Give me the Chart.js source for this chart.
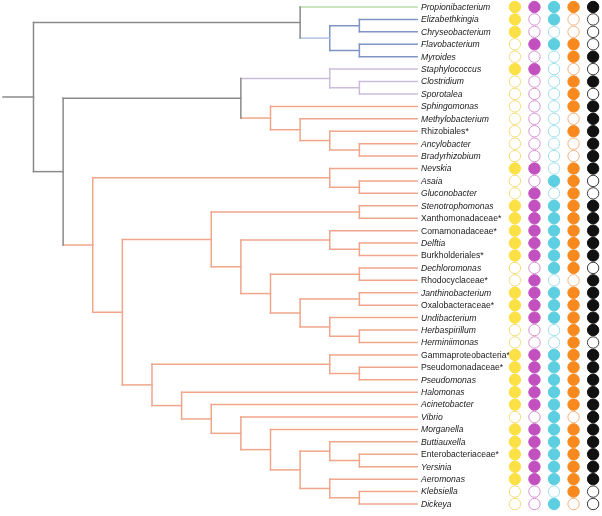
<!DOCTYPE html>
<html>
<head>
<meta charset="utf-8">
<script src="https://cdn.jsdelivr.net/npm/chart.js@4.4.0/dist/chart.umd.min.js"></script>
<style>
  html, body { margin: 0; padding: 0; background: #ffffff; }
  #wrap { width: 602px; height: 516px; }
</style>
</head>
<body>
<div id="wrap"><canvas id="c" width="602" height="516"></canvas></div>
<script>
// ---------------- DATA ----------------
const taxa = [
  "Propionibacterium", "Elizabethkingia", "Chryseobacterium", "Flavobacterium", "Myroides",
  "Staphylococcus", "Clostridium", "Sporotalea", "Sphingomonas", "Methylobacterium",
  "Rhizobiales*", "Ancylobacter", "Bradyrhizobium", "Nevskia", "Asaia",
  "Gluconobacter", "Stenotrophomonas", "Xanthomonadaceae*", "Comamonadaceae*", "Delftia",
  "Burkholderiales*", "Dechloromonas", "Rhodocyclaceae*", "Janthinobacterium", "Oxalobacteraceae*",
  "Undibacterium", "Herbaspirillum", "Herminiimonas", "Gammaproteobacteria*", "Pseudomonadaceae*",
  "Pseudomonas", "Halomonas", "Acinetobacter", "Vibrio", "Morganella",
  "Buttiauxella", "Enterobacteriaceae*", "Yersinia", "Aeromonas", "Klebsiella",
  "Dickeya"
];

// tree topology (numbers are indices into taxa)
const cladePropioni = [0, [[1, 2], [3, 4]]];
const cladeFirmicutes = [5, [6, 7]];
const cladeAlpha = [8, [9, [10, [11, 12]]]];
const cladeNevskia = [13, [14, 15]];
const cladeXantho = [16, 17];
const cladeBeta = [[18, [19, 20]], [[21, 22], [[23, 24], [25, [26, 27]]]]];
const cladePseudo = [28, [29, 30]];
const cladeEntero = [31, [32, [33, [34, [[35, [36, 37]], [38, [39, 40]]]]]]];
const tree = [
  cladePropioni,
  [
    [cladeFirmicutes, cladeAlpha],
    [cladeNevskia, [[cladeXantho, cladeBeta], [cladePseudo, cladeEntero]]]
  ]
];

// coloured groups of leaves (first index, last index, group name)
const groups = [[0, 0, "actino"], [1, 4, "bacteroidetes"], [5, 7, "firmicutes"], [8, 40, "proteo"]];

// trait matrix columns (1 = filled, 0 = empty)
const traitA = [1,1,1,0,0,1,0,0,0,0,0,0,0,1,0,0,1,1,1,1,1,0,0,1,1,1,0,0,1,1,1,1,1,0,1,1,1,1,1,0,0];
const traitB = [1,0,0,1,0,1,0,0,0,0,0,0,0,1,0,1,1,1,1,1,1,0,1,1,1,1,0,0,1,1,1,1,1,0,1,1,1,1,1,0,0];
const traitC = [1,1,0,1,0,0,0,0,0,0,0,0,0,0,1,0,1,1,1,1,1,1,0,1,1,1,0,0,1,1,1,1,1,1,1,1,1,1,1,0,1];
const traitD = [1,0,0,1,1,0,1,1,1,0,1,0,0,1,1,1,1,1,1,1,1,1,0,1,1,1,1,1,1,1,1,1,1,0,1,1,1,1,1,1,0];
const traitE = [1,0,0,0,1,0,1,0,1,1,1,1,1,1,0,0,1,1,1,1,1,0,1,1,1,1,1,0,1,1,1,1,1,1,1,1,1,1,1,0,0];
const traits = [traitA, traitB, traitC, traitD, traitE];

// ---------------- STYLE ----------------
const groupColors = { actino: "#b9dcab", bacteroidetes: "#8094c6", firmicutes: "#cbbcdc", proteo: "#f0a68b" };
const stemColors = { bacteroidetes: "#b3c1df" };
const backboneColor = "#8a8a8a";
const traitFill = ["#fbe046", "#c250bf", "#5ecfe0", "#f7891f", "#111111"];
const traitEmpty = ["#f4dc78", "#d690d4", "#9fe0ea", "#f3b27c", "#3a3a3a"];

// ---------------- LAYOUT ----------------
function layout(node) {
  if (typeof node === "number") return { leaf: true, idx: node, y: node, h: 0, min: node, max: node };
  const kids = node.map(layout);
  return {
    leaf: false, kids,
    h: Math.max(...kids.map(k => k.h)) + 1,
    y: (kids[0].y + kids[kids.length - 1].y) / 2,
    min: Math.min(...kids.map(k => k.min)),
    max: Math.max(...kids.map(k => k.max))
  };
}
const root = layout(tree);
const rootH = root.h;
const leafEnd = 12.95;
const labelX = 13.08;
const colStart = 16.25, colStep = 0.66;

function groupOf(n) {
  for (const g of groups) if (n.min >= g[0] && n.max <= g[1]) return g[2];
  return null;
}

const segs = [];
function walk(n, parentX, parentGroup) {
  const x = n.leaf ? leafEnd : rootH - n.h;
  const g = groupOf(n);
  const col = g ? groupColors[g] : backboneColor;
  // stem from a grey node into a clade may be drawn lighter
  const stemCol = (g && !parentGroup && !n.leaf && stemColors[g]) ? stemColors[g] : col;
  segs.push({ pts: [{ x: parentX, y: n.y }, { x: x, y: n.y }], color: stemCol });
  if (!n.leaf) {
    segs.push({ pts: [{ x: x, y: n.kids[0].y }, { x: x, y: n.kids[n.kids.length - 1].y }], color: col });
    n.kids.forEach(k => walk(k, x, g));
  }
}
walk(root, -1.03, null);

const datasets = [];
traits.forEach((arr, j) => {
  datasets.push({
    type: "scatter",
    data: arr.map((v, i) => ({ x: colStart + colStep * j, y: i })),
    pointRadius: 5.7,
    pointHoverRadius: 5.7,
    pointBorderWidth: 1,
    pointBackgroundColor: arr.map(v => v ? traitFill[j] : "#ffffff"),
    pointBorderColor: arr.map(v => v ? traitFill[j] : traitEmpty[j]),
    showLine: false,
    clip: false
  });
});
segs.forEach(s => {
  datasets.push({
    type: "scatter",
    data: s.pts,
    showLine: true,
    borderColor: s.color,
    borderWidth: 1.5,
    borderCapStyle: "square",
    pointRadius: 0,
    pointHoverRadius: 0,
    fill: false,
    clip: false
  });
});

const labelPlugin = {
  id: "taxonLabels",
  beforeDatasetsDraw(chart) {
    const ctx = chart.ctx;
    const xs = chart.scales.x, ys = chart.scales.y;
    ctx.save();
    ctx.fillStyle = "#1a1a1a";
    ctx.textBaseline = "middle";
    ctx.textAlign = "left";
    taxa.forEach((t, i) => {
      const italic = t.indexOf("*") < 0;
      ctx.font = (italic ? "italic " : "") + "8.6px 'Liberation Sans', Arial, sans-serif";
      ctx.fillText(t, xs.getPixelForValue(labelX), ys.getPixelForValue(i) + 0.5);
    });
    ctx.restore();
  }
};

new Chart(document.getElementById("c"), {
  type: "scatter",
  data: { datasets },
  options: {
    responsive: false,
    devicePixelRatio: 1,
    animation: false,
    layout: { padding: 0, autoPadding: false },
    plugins: { legend: { display: false }, tooltip: { enabled: false } },
    events: [],
    scales: {
      x: { type: "linear", display: false, min: -1.1308, max: 19.19 },
      y: { type: "linear", display: false, reverse: true, min: -0.5634, max: 40.966 }
    }
  },
  plugins: [labelPlugin]
});
</script>
</body>
</html>
